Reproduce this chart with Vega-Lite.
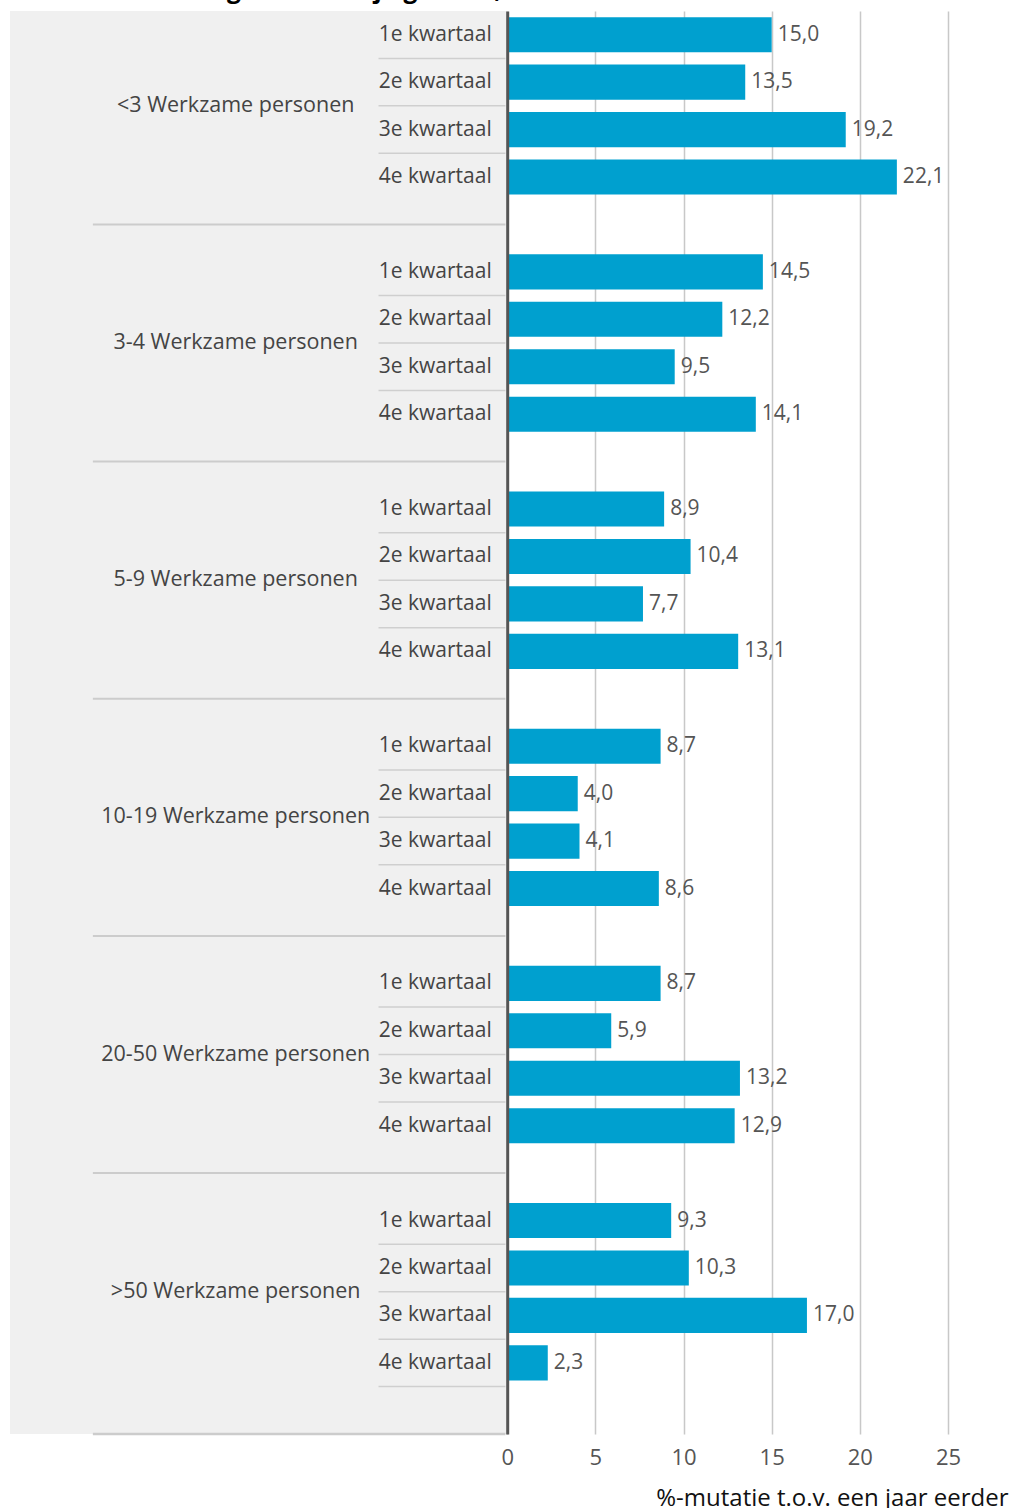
{
  "$schema": "https://vega.github.io/schema/vega-lite/v6.json",
  "autosize": {"type": "none"},
  "padding": {"left": 10, "top": 11, "right": 63, "bottom": 74},
  "width": 938,
  "height": 1423,
  "background": "white",
  "title": {
    "text": "Omzetontwikkeling naar bedrijfsgrootte, 2018",
    "anchor": "start",
    "frame": "group",
    "baseline": "alphabetic",
    "offset": -11,
    "dx": -10,
    "fontSize": 24.5,
    "fontWeight": "bold",
    "font": "Open Sans",
    "color": "#000000"
  },
  "config": {
    "view": {"stroke": null},
    "font": "Open Sans"
  },
  "data": {
    "values": [
      {"group": "<3 Werkzame personen", "quarter": "1e kwartaal", "value": 15.0},
      {"group": "<3 Werkzame personen", "quarter": "2e kwartaal", "value": 13.5},
      {"group": "<3 Werkzame personen", "quarter": "3e kwartaal", "value": 19.2},
      {"group": "<3 Werkzame personen", "quarter": "4e kwartaal", "value": 22.1},
      {"group": "3-4 Werkzame personen", "quarter": "1e kwartaal", "value": 14.5},
      {"group": "3-4 Werkzame personen", "quarter": "2e kwartaal", "value": 12.2},
      {"group": "3-4 Werkzame personen", "quarter": "3e kwartaal", "value": 9.5},
      {"group": "3-4 Werkzame personen", "quarter": "4e kwartaal", "value": 14.1},
      {"group": "5-9 Werkzame personen", "quarter": "1e kwartaal", "value": 8.9},
      {"group": "5-9 Werkzame personen", "quarter": "2e kwartaal", "value": 10.4},
      {"group": "5-9 Werkzame personen", "quarter": "3e kwartaal", "value": 7.7},
      {"group": "5-9 Werkzame personen", "quarter": "4e kwartaal", "value": 13.1},
      {"group": "10-19 Werkzame personen", "quarter": "1e kwartaal", "value": 8.7},
      {"group": "10-19 Werkzame personen", "quarter": "2e kwartaal", "value": 4.0},
      {"group": "10-19 Werkzame personen", "quarter": "3e kwartaal", "value": 4.1},
      {"group": "10-19 Werkzame personen", "quarter": "4e kwartaal", "value": 8.6},
      {"group": "20-50 Werkzame personen", "quarter": "1e kwartaal", "value": 8.7},
      {"group": "20-50 Werkzame personen", "quarter": "2e kwartaal", "value": 5.9},
      {"group": "20-50 Werkzame personen", "quarter": "3e kwartaal", "value": 13.2},
      {"group": "20-50 Werkzame personen", "quarter": "4e kwartaal", "value": 12.9},
      {"group": ">50 Werkzame personen", "quarter": "1e kwartaal", "value": 9.3},
      {"group": ">50 Werkzame personen", "quarter": "2e kwartaal", "value": 10.3},
      {"group": ">50 Werkzame personen", "quarter": "3e kwartaal", "value": 17.0},
      {"group": ">50 Werkzame personen", "quarter": "4e kwartaal", "value": 2.3}
    ]
  },
  "transform": [
    {"calculate": "datum.group + '|' + datum.quarter", "as": "row"},
    {"calculate": "datum.group + '|'", "as": "gap"},
    {"calculate": "replace(format(datum.value, '.1f'), '.', ',')", "as": "label"}
  ],
  "layer": [
    {
      "mark": {"type": "rect", "color": "#f0f0f0"},
      "encoding": {
        "x": {"datum": -28.2, "type": "quantitative"},
        "x2": {"datum": 0}
      }
    },
    {
      "transform": [{"filter": "datum.quarter == '1e kwartaal' && datum.group != '>50 Werkzame personen'"}],
      "mark": {"type": "rule", "color": "#cccccc", "strokeWidth": 2},
      "encoding": {
        "x": {"datum": -23.5, "type": "quantitative"},
        "x2": {"datum": -0.1},
        "y": {"field": "gap", "type": "nominal"}
      }
    },
    {
      "transform": [{"filter": "datum.quarter == '1e kwartaal' && datum.group == '>50 Werkzame personen'"}],
      "mark": {"type": "rule", "color": "#cccccc", "strokeWidth": 2.5},
      "encoding": {
        "x": {"datum": -23.5, "type": "quantitative"},
        "x2": {"datum": -0.1},
        "y": {"field": "gap", "type": "nominal", "bandPosition": 1}
      }
    },
    {
      "transform": [{"filter": "datum.quarter != '1e kwartaal'"}],
      "mark": {"type": "rule", "color": "#cfcfcf", "strokeWidth": 1.5},
      "encoding": {
        "x": {"datum": -7.3, "type": "quantitative"},
        "x2": {"datum": -0.1},
        "y": {"field": "row", "type": "nominal", "bandPosition": 0}
      }
    },
    {
      "transform": [{"filter": "datum.quarter == '1e kwartaal' && datum.group == '>50 Werkzame personen'"}],
      "mark": {"type": "rule", "color": "#cfcfcf", "strokeWidth": 1.5},
      "encoding": {
        "x": {"datum": -7.3, "type": "quantitative"},
        "x2": {"datum": -0.1},
        "y": {"field": "gap", "type": "nominal", "bandPosition": 0}
      }
    },
    {
      "mark": {"type": "bar", "color": "#00a0cf", "height": {"band": 0.74}},
      "encoding": {
        "x": {
          "field": "value",
          "type": "quantitative",
          "scale": {"domain": [-28.2, 25], "nice": false, "zero": false},
          "axis": {
            "values": [0, 5, 10, 15, 20, 25],
            "grid": true,
            "gridColor": "#c8c8c8",
            "gridWidth": 1.5,
            "domain": false,
            "ticks": false,
            "labelFlush": false,
            "labelPadding": 13,
            "labelFontSize": 22,
            "labelColor": "#555555",
            "labelFont": "Open Sans",
            "title": "%-mutatie t.o.v. een jaar eerder",
            "titleFont": "Open Sans",
            "titleFontSize": 24,
            "titleFontWeight": "normal",
            "titleColor": "#111111",
            "titleAlign": "right",
            "titleAnchor": null,
            "titleBaseline": "alphabetic",
            "titleX": 998,
            "titleY": 71
          }
        },
        "y": {
          "field": "row",
          "type": "nominal",
          "scale": {
            "domain": [
              "<3 Werkzame personen|1e kwartaal", "<3 Werkzame personen|2e kwartaal", "<3 Werkzame personen|3e kwartaal", "<3 Werkzame personen|4e kwartaal", "<3 Werkzame personen|",
              "3-4 Werkzame personen|1e kwartaal", "3-4 Werkzame personen|2e kwartaal", "3-4 Werkzame personen|3e kwartaal", "3-4 Werkzame personen|4e kwartaal", "3-4 Werkzame personen|",
              "5-9 Werkzame personen|1e kwartaal", "5-9 Werkzame personen|2e kwartaal", "5-9 Werkzame personen|3e kwartaal", "5-9 Werkzame personen|4e kwartaal", "5-9 Werkzame personen|",
              "10-19 Werkzame personen|1e kwartaal", "10-19 Werkzame personen|2e kwartaal", "10-19 Werkzame personen|3e kwartaal", "10-19 Werkzame personen|4e kwartaal", "10-19 Werkzame personen|",
              "20-50 Werkzame personen|1e kwartaal", "20-50 Werkzame personen|2e kwartaal", "20-50 Werkzame personen|3e kwartaal", "20-50 Werkzame personen|4e kwartaal", "20-50 Werkzame personen|",
              ">50 Werkzame personen|1e kwartaal", ">50 Werkzame personen|2e kwartaal", ">50 Werkzame personen|3e kwartaal", ">50 Werkzame personen|4e kwartaal", ">50 Werkzame personen|"
            ],
            "paddingInner": 0,
            "paddingOuter": 0
          },
          "axis": {
            "title": null,
            "offset": -497.2,
            "zindex": 2,
            "domainColor": "#555555",
            "domainWidth": 3,
            "ticks": false,
            "labelPadding": 16,
            "labelFontSize": 21,
            "labelColor": "#444444",
            "labelFont": "Open Sans",
            "labelExpr": "split(datum.value, '|')[1]"
          }
        }
      }
    },
    {
      "mark": {"type": "text", "align": "left", "baseline": "middle", "dx": 6, "fontSize": 21, "color": "#555555", "font": "Open Sans"},
      "encoding": {
        "x": {"field": "value", "type": "quantitative"},
        "y": {"field": "row", "type": "nominal"},
        "text": {"field": "label"}
      }
    },
    {
      "transform": [{"filter": "datum.quarter == '3e kwartaal'"}],
      "mark": {"type": "text", "align": "center", "baseline": "middle", "fontSize": 21.5, "color": "#444444", "font": "Open Sans"},
      "encoding": {
        "x": {"datum": -15.4, "type": "quantitative"},
        "y": {"field": "row", "type": "nominal", "bandPosition": 0},
        "text": {"field": "group"}
      }
    }
  ]
}
